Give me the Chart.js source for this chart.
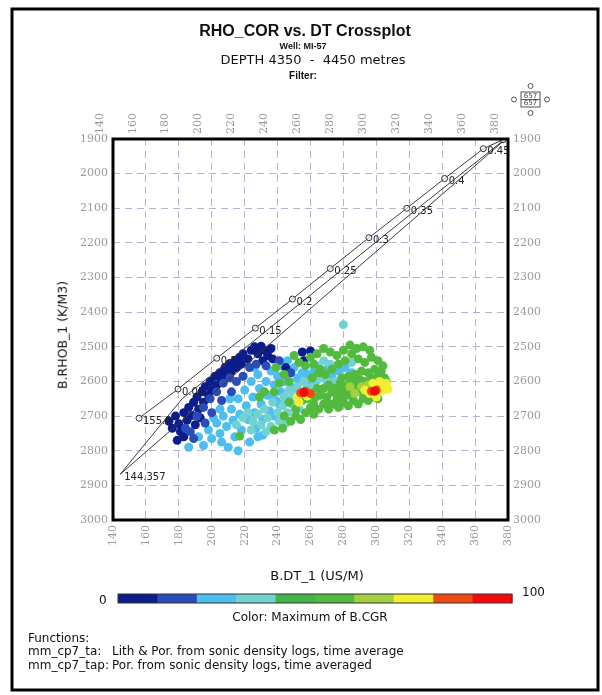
<!DOCTYPE html>
<html>
<head>
<meta charset="utf-8">
<title>RHO_COR vs. DT Crossplot</title>
<script src="https://cdn.jsdelivr.net/npm/chart.js@4.4.1/dist/chart.umd.min.js"></script>
<style>
  html, body { margin: 0; padding: 0; background: #fff; }
  #wrap { position: relative; width: 602px; height: 695px; overflow: hidden; }
  #wrap canvas { position: absolute; left: 0; top: 0; }
  .txt { position: absolute; font-family: "DejaVu Sans", sans-serif; color: #111; white-space: nowrap; line-height: 1; }
  .c { transform: translateX(-50%); }
</style>
</head>
<body>
<div id="wrap">
  <canvas id="plot" width="602" height="695"></canvas>
  <div class="txt c" style="left:305px; top:22px; font:bold 16px 'Liberation Sans', Arial, sans-serif;">RHO_COR vs. DT Crossplot</div>
  <div class="txt c" style="left:303px; top:41px; font:bold 9px 'Liberation Sans', Arial, sans-serif;">Well: MI-57</div>
  <div class="txt c" style="left:313px; top:53px; font-size:13px;">DEPTH 4350 &nbsp;-&nbsp; 4450 metres</div>
  <div class="txt c" style="left:303px; top:70px; font:bold 10px 'Liberation Sans', Arial, sans-serif;">Filter:</div>
  <div class="txt c" style="left:317px; top:569px; font-size:13px;">B.DT_1 (US/M)</div>
  <div class="txt" style="left:63px; top:335px; font-size:12.5px; transform:translate(-50%,-50%) rotate(-90deg);">B.RHOB_1 (K/M3)</div>
  <div class="txt" style="left:99px; top:594px; font-size:12px;">0</div>
  <div class="txt" style="left:522px; top:586px; font-size:12px;">100</div>
  <div class="txt c" style="left:310px; top:611px; font-size:12px;">Color: Maximum of B.CGR</div>
  <div class="txt" style="left:28px; top:632px; font-size:12px;">Functions:</div>
  <div class="txt" style="left:28px; top:645px; font-size:12px;">mm_cp7_ta:</div>
  <div class="txt" style="left:112px; top:645px; font-size:12px;">Lith &amp; Por. from sonic density logs, time average</div>
  <div class="txt" style="left:28px; top:659px; font-size:12px;">mm_cp7_tap:</div>
  <div class="txt" style="left:112px; top:659px; font-size:12px;">Por. from sonic density logs, time averaged</div>
</div>
<script>
// axis ranges (DT in us/m, RHOB in kg/m3)
const dtRange = [140, 380];
const rhoRange = [1900, 3000];

// colour scale for B.CGR, 10 bins from 0 to 100
const grBinColors = ["#0c1c8c", "#2a4cb8", "#4cbef0", "#72d2d2", "#44b44a", "#52ba3e", "#a4d040", "#f2ee30", "#f04a14", "#f40a0a"];

// lithology lines (time average)
const limeDT = [155.8, 179.5, 203, 226.5, 249, 272, 295.5, 318.5, 341.5, 365, 377];
const limeRHO = [2706, 2622, 2533, 2446, 2362, 2274, 2185, 2100, 2014, 1928, 1902];
const limeText = ["155.8", "0.05", "0.1", "0.15", "0.2", "0.25", "0.3", "0.35", "0.4", "0.45", ""];
const sandDT = [182, 230, 277, 330, 377];
const sandRHO = [2650, 2466, 2285, 2082, 1905];
const doloDT = [144.357, 200, 255, 320, 377.5];
const doloRHO = [2868, 2638, 2410, 2142, 1905];
const matrixDT = [144.357, 182];
const matrixRHO = [2868, 2650];

// crossplot points [DT, RHOB] grouped by their B.CGR value
const navyPts = [[174,2715],[176,2735],[178,2700],[180,2722],[181,2745],[179,2770],[183,2760],[183,2690],[185,2712],[186,2675],[188,2698],[189,2660],[190,2725],
  [191,2645],[192,2680],[193,2705],[194,2630],[195,2660],[196,2615],[198,2640],[199,2600],[200,2625],[202,2585],[203,2610],
  [205,2575],[206,2598],[208,2560],[209,2582],[211,2548],[212,2570],[214,2540],[215,2560],[217,2530],[218,2550],[219,2520],
  [222,2535],[224,2510],[226,2500],[228,2520],[230,2498],[232,2510],[234,2525],[236,2505],[237,2535],[231,2540],
  [255,2515],[260,2512],[256,2540],[245,2560]];
const bluePts = [[184,2735],[187,2745],[191,2700],[195,2675],[199,2650],[203,2630],[207,2605],[211,2590],[215,2600],[219,2585],[223,2560],[227,2550],[233,2555],[200,2690],[196,2720],[189,2765],[241,2540],[248,2575],[206,2655],[212,2630]];
const skyPts = [[186,2790],[192,2760],[195,2785],[198,2740],[200,2765],[203,2720],[205,2750],[207,2700],[209,2730],[210,2790],[212,2680],[213,2712],[214,2760],[216,2650],[217,2695],[218,2740],[220,2625],[221,2670],[222,2710],[224,2600],[225,2645],[226,2690],[227,2735],[228,2580],[229,2620],[230,2665],[231,2710],[233,2600],[234,2640],[235,2685],[236,2570],[238,2610],[239,2655],[240,2585],[242,2630],[243,2555],[244,2600],[246,2540],[248,2615],[250,2560],[252,2590],[255,2575],[258,2580],[262,2570],[270,2565],[273,2585],[277,2570],[281,2560],[285,2575],[228,2760],[211,2650],[205,2680],[201,2705],[223,2775],[216,2800],[206,2775],[231,2755],[238,2700],[220,2545],[226,2560],
  [245,2650],[249,2630],[253,2600],[258,2610],[264,2595],[268,2585],[236,2640],[241,2665]];
const tealPts = [[215,2725],[219,2705],[222,2690],[225,2715],[228,2695],[230,2725],[232,2680],[234,2705],[236,2730],[237,2660],[240,2690],[241,2715],[243,2670],[244,2645],[246,2690],[247,2625],[249,2665],[250,2640],[252,2615],[253,2680],[256,2600],[259,2620],[262,2600],[266,2590],[270,2600],[275,2600],[280,2436],[285,2545],[264,2555],[268,2540],[272,2550],[289,2590],[224,2740],[233,2745],[245,2720]];
const greenPts = [[217,2758],[238,2740],[243,2735],[248,2715],[251,2700],[254,2710],[257,2690],[260,2675],[262,2695],[265,2680],[268,2665],[271,2680],[274,2665],[277,2675],[280,2660],[283,2670],[286,2655],[289,2665],[292,2650],[295,2655],[298,2645],[301,2650],
  [255,2655],[258,2650],[263,2645],[266,2640],[270,2645],[273,2630],[276,2640],[279,2625],[282,2640],[285,2630],[288,2620],[291,2630],[294,2620],
  [256,2630],[260,2640],[264,2620],[268,2620],[271,2610],[275,2620],[278,2605],[281,2615],[284,2600],[287,2605],[290,2595],[293,2600],[297,2590],[301,2585],[305,2590],[303,2570],[299,2565],[295,2575],[291,2570],[287,2580],[283,2585],[279,2590],
  [261,2590],[265,2575],[269,2580],[273,2565],[277,2550],[281,2540],[285,2520],[289,2535],[293,2545],[297,2530],[301,2540],[296,2510],[292,2500],[288,2505],[284,2495],[280,2510],[276,2525],[272,2515],[268,2505],[264,2520],[260,2530],[262,2550],[266,2565],[257,2555],[253,2545],[250,2525],
  [247,2600],[244,2580],[241,2605],[238,2630],[232,2630],[229,2645],[239,2560],[247,2660],[251,2680],[244,2700],[304,2555],[306,2600],[262,2665],[270,2660],[276,2655],[280,2645]];
const limePts = [[287,2635],[291,2615],[295,2610],[303,2610],[306,2615],[284,2615]];
const yellowPts = [[253,2660],[252,2645],[258,2642],[293,2625],[296,2635],[300,2632],[304,2625],[307,2622],[306,2605],[302,2600],[298,2605],[300,2645]];
const orangePts = [[254,2633],[257,2628],[260,2635],[297,2628],[300,2625]];
const redPts = [[256,2632],[299,2628]];

// GR value of each group, drawing order from top to bottom
const groups = [
  { pts: redPts, gr: 95 },
  { pts: orangePts, gr: 85 },
  { pts: yellowPts, gr: 75 },
  { pts: limePts, gr: 65 },
  { pts: greenPts, gr: 55 },
  { pts: tealPts, gr: 35 },
  { pts: bluePts, gr: 15 },
  { pts: navyPts, gr: 5 },
  { pts: skyPts, gr: 25 },
];

function grColor(gr) {
  return grBinColors[Math.min(9, Math.floor(gr / 10))];
}

function toXY(xs, ys) {
  return xs.map((x, i) => ({ x: x, y: ys[i] }));
}

const lineStyle = { showLine: true, borderColor: "#3a3a3a", borderWidth: 1, pointRadius: 0, fill: false };

const datasets = [
  { ...lineStyle, data: toXY(limeDT, limeRHO), pointText: limeText, pointRadius: 3, pointBorderColor: "#333", pointBackgroundColor: "rgba(255,255,255,0.6)", pointBorderWidth: 1 },
  { ...lineStyle, data: toXY(sandDT, sandRHO) },
  { ...lineStyle, data: toXY(doloDT, doloRHO), pointText: ["144.357"] },
  { ...lineStyle, data: toXY(matrixDT, matrixRHO) },
];
groups.forEach((g) => {
  datasets.push({
    data: g.pts.map((p) => ({ x: p[0], y: p[1] })),
    backgroundColor: grColor(g.gr),
    borderWidth: 0,
    pointRadius: 4.5,
  });
});

// draws thick plot frame, outer page frame, colour bar and the small header symbol
const decor = {
  id: "decor",
  afterDatasetsDraw(chart) {
    const ctx = chart.ctx;
    // porosity / matrix labels along the lines
    ctx.save();
    ctx.font = '10px "DejaVu Sans", sans-serif';
    ctx.fillStyle = "#222";
    ctx.textBaseline = "middle";
    chart.data.datasets.forEach((ds, i) => {
      if (!ds.pointText) return;
      chart.getDatasetMeta(i).data.forEach((pt, j) => {
        const t = ds.pointText[j];
        if (t) ctx.fillText(t, pt.x + 4, pt.y + 3);
      });
    });
    ctx.restore();
  },
  afterDraw(chart) {
    const ctx = chart.ctx;
    const a = chart.chartArea;
    ctx.save();
    ctx.strokeStyle = "#000";
    ctx.lineWidth = 3;
    ctx.strokeRect(a.left, a.top, a.right - a.left, a.bottom - a.top);
    ctx.lineWidth = 3;
    ctx.strokeRect(12, 9, 586, 681);

    // colour bar
    const barX = 118, barW = 394, barY = 594, barH = 9;
    grBinColors.forEach((c, i) => {
      ctx.fillStyle = c;
      ctx.fillRect(barX + (i * barW) / 10, barY, barW / 10 + 0.5, barH);
    });
    ctx.lineWidth = 1;
    ctx.strokeStyle = "#333";
    ctx.strokeRect(barX, barY, barW, barH);

    // header symbol
    ctx.strokeStyle = "#555";
    ctx.fillStyle = "#444";
    ctx.strokeRect(521, 92, 19, 15);
    ctx.beginPath();
    ctx.moveTo(521, 99.5);
    ctx.lineTo(540, 99.5);
    ctx.stroke();
    ctx.font = "7px 'DejaVu Sans', sans-serif";
    ctx.textAlign = "center";
    ctx.textBaseline = "middle";
    ctx.fillText("657", 530.5, 96);
    ctx.fillText("657", 530.5, 103.5);
    [[530.5, 86], [514, 99.5], [547, 99.5], [530.5, 113]].forEach((p) => {
      ctx.beginPath();
      ctx.arc(p[0], p[1], 2.5, 0, Math.PI * 2);
      ctx.stroke();
    });
    ctx.restore();
  },
};

const tickFont = { family: "DejaVu Serif", size: 11 };
const tickColor = "#9a9a9a";
const dash = { display: false, dash: [7, 5] };
const plain = (v) => String(v);

const ctx = document.getElementById("plot").getContext("2d");
new Chart(ctx, {
  type: "scatter",
  data: { datasets: datasets },
  options: {
    responsive: false,
    animation: false,
    events: [],
    layout: { padding: 0 },
    plugins: { legend: { display: false }, tooltip: { enabled: false } },
    scales: {
      x: {
        type: "linear", position: "bottom", min: dtRange[0], max: dtRange[1],
        ticks: { stepSize: 20, minRotation: 90, maxRotation: 90, padding: 5, color: tickColor, font: tickFont, callback: plain },
        grid: { color: "#b4b4d0", lineWidth: 1, drawTicks: false },
        border: dash,
        afterFit: (s) => { s.height = 175; },
      },
      xTop: {
        type: "linear", position: "top", min: dtRange[0], max: dtRange[1],
        ticks: { stepSize: 20, minRotation: 90, maxRotation: 90, padding: 5, color: tickColor, font: tickFont, callback: plain },
        grid: { display: false, drawTicks: false },
        border: { display: false },
        afterFit: (s) => { s.height = 139; },
      },
      y: {
        type: "linear", position: "left", reverse: true, min: rhoRange[0], max: rhoRange[1],
        ticks: { stepSize: 100, padding: 5, color: tickColor, font: tickFont, callback: plain },
        grid: { color: "#b4b4d0", lineWidth: 1, drawTicks: false },
        border: dash,
        afterFit: (s) => { s.width = 113; },
      },
      yRight: {
        type: "linear", position: "right", reverse: true, min: rhoRange[0], max: rhoRange[1],
        ticks: { stepSize: 100, padding: 5, color: tickColor, font: tickFont, callback: plain },
        grid: { display: false, drawTicks: false },
        border: { display: false },
        afterFit: (s) => { s.width = 94; },
      },
    },
  },
  plugins: [decor],
});
</script>
</body>
</html>
